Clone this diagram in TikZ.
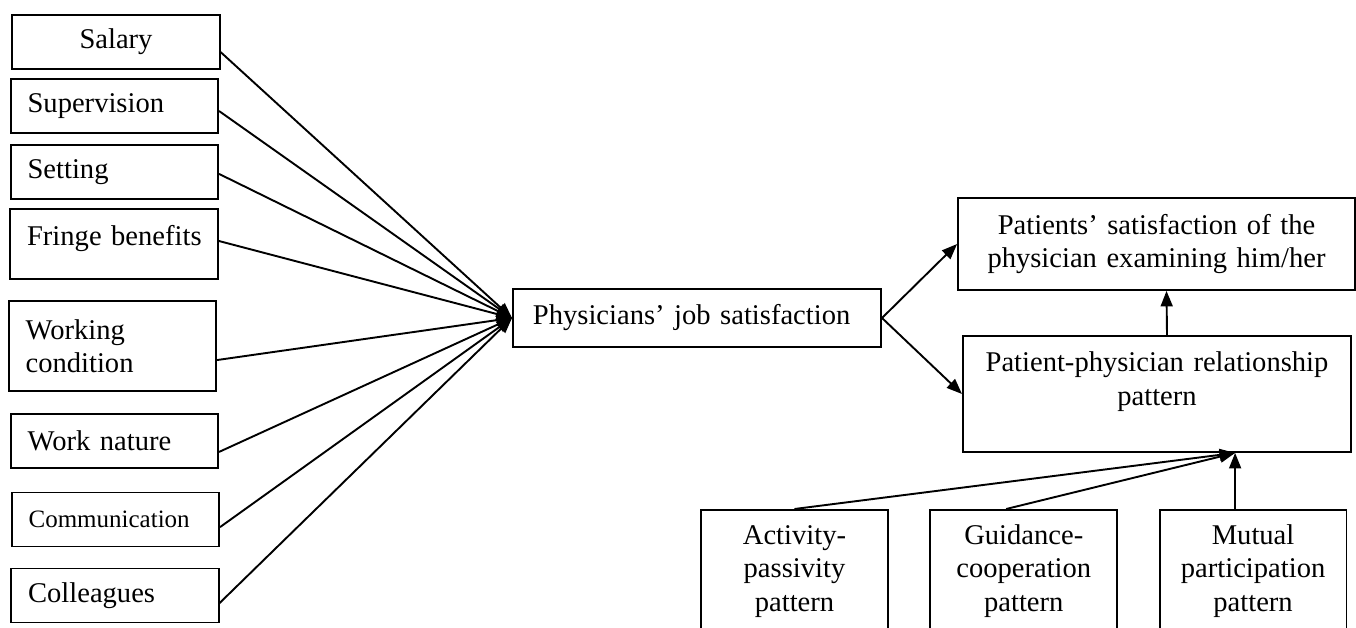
\documentclass[tikz,border=0pt]{standalone}
\usepackage{fontspec}
\setmainfont{Liberation Serif}
\usepackage{tikz}
\usetikzlibrary{arrows.meta,positioning}

\begin{document}
\begin{tikzpicture}[x=0.42pt, y=-0.42pt, >={Triangle[length=6.5pt,width=5pt]}, line width=0.8pt]
\tikzset{
factor/.style   = {draw, shape=rectangle, font=\fontsize{12}{14}\selectfont, text width=73pt, inner xsep=7pt, align=left, minimum height=22.7pt},
block/.style    = {draw, shape=rectangle, font=\fontsize{12}{14}\selectfont, align=center},
mode/.style     = {block, text width=72pt, inner xsep=3.25pt, inner ysep=0pt, text height=14.5pt, text depth=50pt},
}
    \path [use as bounding box, clip] (0,0) rectangle (1356,628);

    % Factor nodes
    \node [factor, align=center]    (salary)      at (116,42)     {Salary};
    \node [factor]                  (supervision) at (114.5,106)  {Supervision};
    \node [factor]                  (setting)     at (114.5,172)  {Setting};
    \node [factor, inner ysep=0pt, text height=15.5pt, text depth=13.9pt] (fringe) at (114,244) {\mbox{Fringe benefits}};
    \node [factor, minimum height=37.8pt] (working) at (112.5,346) {Working\\condition};
    \node [factor]                  (nature)      at (114.5,441)  {Work nature};
    \node [factor, font=\fontsize{10.5}{12.6}\selectfont] (comm) at (115.5,519.5) {Communication};
    \node [factor]                  (colleagues)  at (115,595.5)  {Colleagues};

    % Satisfaction nodes
    \node [block, text width=137.8pt, align=left, inner xsep=8.4pt, minimum height=24.4pt] (job) at (697,318) {Physicians' job satisfaction};
    \node [block, text width=158pt, inner xsep=4.35pt, minimum height=38.6pt] (patsat) at (1156.5,244) {Patients' satisfaction of the\\physician examining him/her};
    \node [block, text width=154pt, inner xsep=4.5pt, inner ysep=0pt, text height=15.1pt, text depth=33.6pt] (relation) at (1157,394) {Patient-physician relationship\\pattern};
    \coordinate (rel_in) at ([xshift=32.8pt]relation.south);

    % Pattern nodes
    \node [mode, anchor=north]          (activity)    at (794.5,509)  {Activity-\\passivity\\pattern};
    \node [mode, right=17pt of activity] (guidance)   {Guidance-\\cooperation\\pattern};
    \node [mode, right=17pt of guidance] (mutual)     {Mutual\\participation\\pattern};

    % Factor edges
    \draw [->] ([yshift=-4.2pt]salary.east)     -- (job.west);
    \draw [->] ([yshift=-2.1pt]supervision.east) -- (job.west);
    \draw [->] ([yshift=-0.8pt]setting.east)    -- (job.west);
    \draw [->] ([yshift=1.3pt]fringe.east)      -- (job.west);
    \draw [->] ([yshift=-5.9pt]working.east)    -- (job.west);
    \draw [->] ([yshift=-4.6pt]nature.east)     -- (job.west);
    \draw [->] ([yshift=-3.2pt]comm.east)       -- (job.west);
    \draw [->] ([yshift=-3.2pt]colleagues.east) -- (job.west);

    % Satisfaction edges
    \draw [->] (job.east)   -- (patsat.west);
    \draw [->] (job.east)   -- (relation.west);
    \draw [->] ([xshift=4.2pt]relation.north) -- ([xshift=4.2pt]patsat.south);

    % Pattern edges
    \draw [->] (activity.north)                 -- (rel_in);
    \draw [->] ([xshift=-7.4pt]guidance.north)  -- (rel_in);
    \draw [->] (mutual.north -| rel_in)         -- (rel_in);

\end{tikzpicture}
\end{document}
